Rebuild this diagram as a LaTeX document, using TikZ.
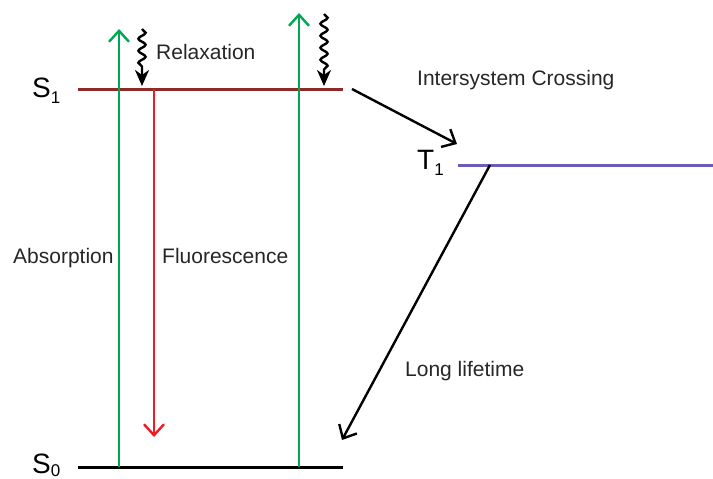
\documentclass[tikz,border=0pt]{standalone}
\usepackage{fontspec}
\setmainfont{Liberation Sans}
\usetikzlibrary{arrows.meta,decorations.pathmorphing}
\definecolor{sone}{HTML}{8C2A2A}
\definecolor{tone}{HTML}{6E5BB5}
\definecolor{absgreen}{HTML}{00A651}
\definecolor{flred}{HTML}{ED1C24}
\newcommand{\lvl}[3]{{\fontsize{28}{30}\selectfont #1}\raisebox{#3}{\fontsize{17}{18}\selectfont #2}}
\tikzset{
  level/.style={line width=3pt},
  barb/.style={line width=2.4pt,-{Straight Barb[length=11pt,width=20pt,line width=2.4pt]}},
  wavy/.style={line width=2.4pt,-{Stealth[length=16pt,width=14pt,inset=5pt]},
    decorate,decoration={snake,amplitude=3.6pt,segment length=12pt,post length=15pt}},
  lbl/.style={font=\fontsize{21}{25}\selectfont,inner sep=0pt,anchor=base west,text=black!85}
}
\begin{document}
\begin{tikzpicture}[x=1pt,y=-1pt]
\useasboundingbox (0,0) rectangle (713,479);
% level endpoints
\coordinate (s1l) at (78,89);
\coordinate (s1r) at (343,89);
\coordinate (s0l) at (78,467);
\coordinate (s0r) at (343,467);
\coordinate (t1l) at (458,165);
\coordinate (t1r) at (713,165);
% levels
\draw[level,sone] (s1l) -- (s1r);
\draw[level,black] (s0l) -- (s0r);
\draw[level,tone] (t1l) -- (t1r);
% level labels
\node[lbl,anchor=base west,text=black] (S1) at (32,97) {\lvl{S}{1}{-6pt}};
\node[lbl,anchor=base west,text=black] (S0) at (32,473) {\lvl{S}{0}{-3pt}};
\node[lbl,anchor=base west,text=black] (T1) at (417,169) {\lvl{T}{1}{-6pt}};
% absorption arrows
\coordinate (a1b) at (119,467);
\coordinate (a1t) at (119,29);
\coordinate (a2b) at (299,467);
\coordinate (a2t) at (299,13);
\draw[barb,absgreen] (a1b) -- (a1t);
\draw[barb,absgreen] (a2b) -- (a2t);
% fluorescence
\coordinate (fs) at (154,89);
\coordinate (fe) at (154,437);
\draw[barb,flred] (fs) -- (fe);
% relaxation wavy arrows
\coordinate (r1s) at (142,29);
\coordinate (r1e) at (142,86);
\coordinate (r2s) at (324,14);
\coordinate (r2e) at (324,86);
\draw[wavy] (r1s) -- (r1e);
\draw[wavy] (r2s) -- (r2e);
% intersystem crossing
\coordinate (iscs) at (352,89);
\coordinate (isce) at (457,144);
\draw[barb,black] (iscs) -- (isce);
% long lifetime
\coordinate (lls) at (490,165);
\coordinate (lle) at (342,440);
\draw[barb,black] (lls) -- (lle);
% labels
\node[lbl] (relax) at (156,59) {Relaxation};
\node[lbl] (isc) at (417,85) {Intersystem Crossing};
\node[lbl] (absl) at (13,263) {Absorption};
\node[lbl] (fluo) at (162,263) {Fluorescence};
\node[lbl] (longl) at (405,376) {Long lifetime};
\end{tikzpicture}
\end{document}
